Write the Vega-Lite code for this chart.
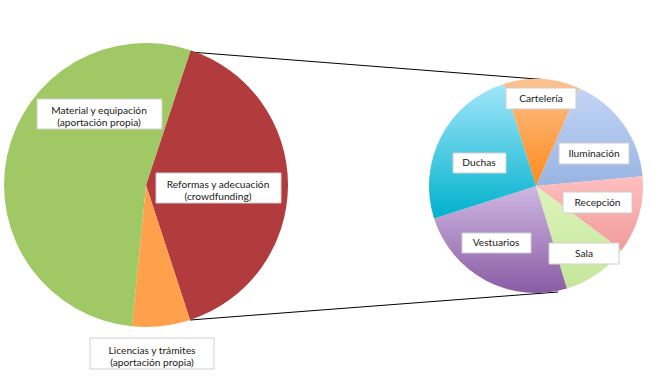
{
  "$schema": "https://vega.github.io/schema/vega-lite/v6.json",
  "width": 651,
  "height": 382,
  "padding": 0,
  "autosize": "none",
  "background": "white",
  "config": {"view": {"stroke": null}},
  "datasets": {
    "principal": [
      {"parte": "Reformas y adecuación (crowdfunding)", "pct": 39.9, "i": 1},
      {"parte": "Licencias y trámites (aportación propia)", "pct": 6.6, "i": 2},
      {"parte": "Material y equipación (aportación propia)", "pct": 53.5, "i": 3}
    ],
    "desglose": [
      {"parte": "Cartelería", "pct": 11.5, "i": 1},
      {"parte": "Iluminación", "pct": 16.9, "i": 2},
      {"parte": "Recepción", "pct": 11.7, "i": 3},
      {"parte": "Sala", "pct": 10.1, "i": 4},
      {"parte": "Vestuarios", "pct": 24.75, "i": 5},
      {"parte": "Duchas", "pct": 25.05, "i": 6}
    ],
    "conectores": [
      {"xa": 190, "ya": 52, "xb": 543, "yb": 79.5},
      {"xa": 190, "ya": 320, "xb": 558, "yb": 292}
    ],
    "etiquetas": [
      {"texto": "Material y equipación\n(aportación propia)", "cx": 99, "cy": 111, "x0": 37, "x1": 162, "y0": 99, "y1": 129},
      {"texto": "Reformas y adecuación\n(crowdfunding)", "cx": 218, "cy": 185, "x0": 156, "x1": 281, "y0": 173, "y1": 203},
      {"texto": "Licencias y trámites\n(aportación propia)", "cx": 152, "cy": 350.5, "x0": 90, "x1": 214, "y0": 338, "y1": 369},
      {"texto": "Cartelería", "cx": 541, "cy": 99, "x0": 506, "x1": 576, "y0": 88, "y1": 109},
      {"texto": "Iluminación", "cx": 594, "cy": 154, "x0": 559, "x1": 629, "y0": 143, "y1": 164},
      {"texto": "Recepción", "cx": 597.5, "cy": 203, "x0": 563, "x1": 632, "y0": 192, "y1": 213},
      {"texto": "Sala", "cx": 584, "cy": 254, "x0": 549, "x1": 619, "y0": 243, "y1": 264},
      {"texto": "Vestuarios", "cx": 496, "cy": 243, "x0": 462, "x1": 531, "y0": 233, "y1": 253},
      {"texto": "Duchas", "cx": 479, "cy": 163, "x0": 453, "x1": 506, "y0": 153, "y1": 173}
    ]
  },
  "resolve": {"scale": {"theta": "independent", "color": "independent"}},
  "layer": [
    {
      "data": {"name": "conectores"},
      "mark": {"type": "rule", "color": "#000000", "strokeWidth": 1},
      "encoding": {
        "x": {"field": "xa", "type": "quantitative", "scale": {"domain": [0, 651], "nice": false, "zero": false}, "axis": null},
        "y": {"field": "ya", "type": "quantitative", "scale": {"domain": [0, 382], "nice": false, "zero": false, "reverse": true}, "axis": null},
        "x2": {"field": "xb"},
        "y2": {"field": "yb"}
      }
    },
    {
      "data": {"name": "principal"},
      "mark": {"type": "arc", "outerRadius": 142},
      "encoding": {
        "x": {"datum": 146, "type": "quantitative"},
        "y": {"datum": 185, "type": "quantitative"},
        "theta": {"field": "pct", "type": "quantitative", "stack": true, "scale": {"range": [0.3194, 6.6026]}},
        "order": {"field": "i"},
        "color": {
          "field": "parte", "type": "nominal", "legend": null,
          "scale": {
            "domain": ["Reformas y adecuación (crowdfunding)", "Licencias y trámites (aportación propia)", "Material y equipación (aportación propia)"],
            "range": ["#B23B3E", "#FFA14C", "#A0C966"]
          }
        }
      }
    },
    {
      "data": {"name": "desglose"},
      "mark": {"type": "arc", "outerRadius": 107},
      "encoding": {
        "x": {"datum": 536, "type": "quantitative"},
        "y": {"datum": 186, "type": "quantitative"},
        "theta": {"field": "pct", "type": "quantitative", "stack": true, "scale": {"range": [-0.3054, 5.9778]}},
        "order": {"field": "i"},
        "fill": {
          "condition": [
            {"test": "datum.parte === 'Cartelería'", "value": {"gradient": "linear", "x1": 0, "y1": 0, "x2": 0, "y2": 1, "stops": [{"offset": 0, "color": "#FCC28F"}, {"offset": 1, "color": "#FF8A1C"}]}},
            {"test": "datum.parte === 'Iluminación'", "value": {"gradient": "linear", "x1": 0, "y1": 0, "x2": 0, "y2": 1, "stops": [{"offset": 0, "color": "#C3D5F6"}, {"offset": 1, "color": "#98B3E2"}]}},
            {"test": "datum.parte === 'Recepción'", "value": {"gradient": "linear", "x1": 0, "y1": 0, "x2": 0, "y2": 1, "stops": [{"offset": 0, "color": "#FFBEBE"}, {"offset": 1, "color": "#F19C9C"}]}},
            {"test": "datum.parte === 'Sala'", "value": {"gradient": "linear", "x1": 0, "y1": 0, "x2": 0, "y2": 1, "stops": [{"offset": 0, "color": "#DDF4B9"}, {"offset": 1, "color": "#C4E69B"}]}},
            {"test": "datum.parte === 'Vestuarios'", "value": {"gradient": "linear", "x1": 0, "y1": 0, "x2": 0, "y2": 1, "stops": [{"offset": 0, "color": "#CFB8E2"}, {"offset": 1, "color": "#8A5BA5"}]}},
            {"test": "datum.parte === 'Duchas'", "value": {"gradient": "linear", "x1": 0, "y1": 0, "x2": 0, "y2": 1, "stops": [{"offset": 0, "color": "#A2E6FA"}, {"offset": 1, "color": "#00B1CD"}]}}
          ],
          "value": "#cccccc"
        }
      }
    },
    {
      "data": {"name": "etiquetas"},
      "mark": {"type": "rect", "fill": "#FFFFFF", "stroke": "#CFCFCF", "strokeWidth": 1},
      "encoding": {
        "x": {"field": "x0", "type": "quantitative"},
        "x2": {"field": "x1"},
        "y": {"field": "y0", "type": "quantitative"},
        "y2": {"field": "y1"}
      }
    },
    {
      "data": {"name": "etiquetas"},
      "mark": {"type": "text", "font": "Lato", "fontSize": 10.2, "color": "#1A1A1A", "lineBreak": "\n", "lineHeight": 12, "align": "center", "baseline": "middle"},
      "encoding": {
        "x": {"field": "cx", "type": "quantitative"},
        "y": {"field": "cy", "type": "quantitative"},
        "text": {"field": "texto", "type": "nominal"}
      }
    }
  ]
}
